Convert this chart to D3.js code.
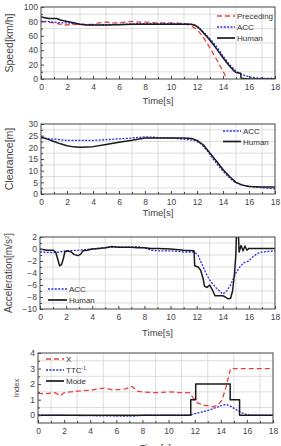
<!DOCTYPE html>
<html>
<head>
<meta charset="utf-8">
<script src="https://cdn.jsdelivr.net/npm/d3@7"></script>
<style>
  html, body { margin: 0; padding: 0; background: #fff; }
  svg { display: block; font-family: "Liberation Sans", Arial, sans-serif; }
</style>
</head>
<body>
<svg id="chart" width="281" height="446"></svg>
<script>
// ---------- DATA ----------
const timeTicks = [0, 2, 4, 6, 8, 10, 12, 14, 16, 18];

const precedingSpeed = [[0,80],[0.5,79],[1,78],[1.5,76],[2,75],[2.5,76],[3,76],[3.5,76],[4,76],[4.5,78],[5,79],[5.5,78],[6,78],[6.5,79],[7,80],[7.5,79],[8,79],[9,78],[10,78],[11,77],[11.5,74],[12,69],[12.4,60],[12.8,49],[13.2,37],[13.6,24],[14,11],[14.3,0]];
const accSpeed = [[0,80],[0.5,80],[1,79],[1.5,78],[2,78],[2.5,77],[3,76],[4,75],[5,75.5],[6,76],[7,76.5],[8,77],[9,77],[10,77],[11,77],[11.5,76],[11.8,75],[12.1,72],[12.5,65],[13,56],[13.5,45],[14,32],[14.5,20],[15,11],[15.5,6],[16,3],[16.5,1.5],[17,1],[18,1]];
const humanSpeed = [[0,86],[0.3,85],[0.6,84],[1.2,84],[1.5,82],[2,80],[2.5,78],[3,76],[3.5,75],[4,75],[5,75],[6,75.5],[7,76],[8,76],[9,76],[10,76],[11,76],[11.6,76],[11.9,74],[12.2,70],[12.5,64],[12.9,56],[13.3,47],[13.7,37],[14.1,27],[14.5,18],[14.8,12],[15,9],[15.35,8],[15.4,1],[16,0],[18,0]];
const speedTicks = [0, 20, 40, 60, 80, 100];

const accClearance = [[0,24],[1,23.5],[2,23],[3,23],[4,23],[5,23.3],[6,23.6],[7,24],[8,24.5],[9,24.2],[10,24],[11,23.5],[11.8,23],[12.3,21.5],[12.8,18.5],[13.3,14.5],[13.8,11],[14.3,8],[14.8,5.5],[15.3,4],[15.8,3.5],[16.5,3],[17,2.7],[18,2.2]];
const humanClearance = [[0,24.5],[0.5,23.5],[1,22.5],[1.5,21.5],[2,20.7],[2.5,20.2],[3,20],[4,20.3],[5,21.2],[6,22.2],[7,23],[8,24],[9,24],[10,24],[11,24],[11.6,23.8],[12,23],[12.5,21],[13,17.5],[13.5,14],[14,10.5],[14.5,7.5],[15,5],[15.5,3.8],[16,3.2],[17,3],[18,3]];
const clearanceTicks = [0, 5, 10, 15, 20, 25, 30];

const accAcceleration = [[0,-0.5],[1,-0.6],[1.5,-0.5],[2,-0.3],[3,-0.2],[4,0],[5,0.2],[5.5,0.3],[6,0.3],[7,0.3],[7.5,0.4],[8,0.2],[8.5,-0.2],[9,-0.3],[10,-0.3],[11,-0.5],[11.8,-0.5],[12.1,-1],[12.4,-2.5],[12.7,-4],[13,-5.2],[13.5,-6.5],[14,-7.5],[14.3,-7],[14.6,-6],[15,-4],[15.3,-3],[15.6,-2.3],[16,-2],[16.3,-1.3],[16.7,-0.7],[17,-0.5],[18,-0.3]];
const humanAcceleration = [[0,0],[0.5,-0.2],[1,-0.2],[1.2,-0.5],[1.4,-2],[1.5,-2.8],[1.65,-2.6],[1.8,-1.5],[1.9,-0.5],[2.1,-0.3],[2.4,-0.5],[2.6,-0.9],[2.9,-1.1],[3.1,-0.9],[3.3,-0.3],[3.6,-0.2],[4,0],[4.5,0.1],[5,0.2],[5.5,0.4],[6,0.3],[6.5,0.3],[7,0.3],[7.5,0.2],[8,0.2],[8.5,0.1],[9,0.1],[10,0],[11,-0.2],[11.8,-0.3],[11.85,-2.8],[12.1,-3],[12.3,-3.5],[12.5,-5],[12.6,-6.2],[12.8,-6.4],[13,-6],[13.2,-6.8],[13.4,-7.8],[13.7,-7.8],[14,-7.8],[14.2,-8],[14.4,-8.3],[14.6,-8.2],[14.75,-7],[14.9,-4],[15,-1],[15.05,2.5],[15.2,2.5],[15.25,-0.5],[15.4,0.6],[15.55,-0.3],[15.7,0.5],[15.85,-0.2],[16,0.1],[16.5,0.1],[18,0.1]];
const accelerationTicks = [-10, -8, -6, -4, -2, 0, 2];

const xIndex = [[0,1.4],[0.5,1.38],[1,1.42],[1.3,1.45],[1.7,1.25],[2,1.45],[2.5,1.5],[3,1.55],[4,1.6],[4.6,1.7],[5.2,1.75],[5.6,1.65],[6.3,1.65],[6.7,1.7],[7.2,1.85],[7.6,1.55],[8,1.5],[9,1.45],[10,1.5],[11,1.45],[11.6,1.45],[11.9,1.1],[12.2,0.8],[12.7,0.65],[13.4,0.55],[13.8,0.65],[14.1,1],[14.4,1.8],[14.6,2.5],[14.75,3],[18,3]];
const ttcInverse = [[0,0],[2,0],[4,-0.03],[6,-0.05],[7.5,-0.05],[8,0],[11.6,0],[12,0.1],[12.5,0.2],[13,0.3],[13.5,0.45],[14,0.6],[14.4,0.7],[14.7,0.6],[15,0.45],[15.4,0.25],[15.8,0.08],[16.3,0],[18,0]];
const modeIndex = [[0,0],[11.7,1],[12.08,2],[14.72,1],[15.44,0],[18,0]];
const indexTicks = [0, 1, 2, 3, 4];

// ---------- STYLES ----------
const RED = { stroke: "#e8413b", width: 1.3, dash: "5,3" };
const BLUE = { stroke: "#2b2bdc", width: 1.3, dash: "2,1.4" };
const BLACK = { stroke: "#1a1a1a", width: 1.5, dash: null };

const svg = d3.select("#chart");
svg.append("rect").attr("width", 281).attr("height", 446).attr("fill", "#fff");

function drawPanel(cfg, idx) {
  const x = d3.scaleLinear().domain([0, 18]).range([cfg.left, cfg.right]);
  const y = d3.scaleLinear().domain(cfg.yDomain).range([cfg.bottom, cfg.top]);
  const g = svg.append("g");

  // grid at midpoints (minor positions)
  const xMinor = d3.range(1, 18, 2);
  const yStep = cfg.yTicks[1] - cfg.yTicks[0];
  const yMinor = cfg.yTicks.slice(0, -1).map(v => v + yStep / 2);
  g.selectAll(".gx").data(xMinor).enter().append("line")
    .attr("x1", d => x(d)).attr("x2", d => x(d))
    .attr("y1", cfg.top).attr("y2", cfg.bottom)
    .attr("stroke", "#d4d4d4").attr("stroke-width", 0.8);
  g.selectAll(".gy").data(yMinor).enter().append("line")
    .attr("y1", d => y(d)).attr("y2", d => y(d))
    .attr("x1", cfg.left).attr("x2", cfg.right)
    .attr("stroke", "#d4d4d4").attr("stroke-width", 0.8);

  // clip
  const clipId = "clip" + idx;
  svg.append("clipPath").attr("id", clipId).append("rect")
    .attr("x", cfg.left).attr("y", cfg.top)
    .attr("width", cfg.right - cfg.left).attr("height", cfg.bottom - cfg.top);

  const plot = g.append("g").attr("clip-path", `url(#${clipId})`);
  cfg.series.forEach(s => {
    const line = d3.line().x(d => x(d[0])).y(d => y(d[1]));
    if (s.step) line.curve(d3.curveStepAfter);
    plot.append("path").datum(s.data)
      .attr("fill", "none")
      .attr("stroke", s.style.stroke)
      .attr("stroke-width", s.style.width)
      .attr("stroke-dasharray", s.style.dash)
      .attr("stroke-linejoin", "round")
      .attr("d", line);
  });

  // frame
  g.append("rect").attr("x", cfg.left).attr("y", cfg.top)
    .attr("width", cfg.right - cfg.left).attr("height", cfg.bottom - cfg.top)
    .attr("fill", "none").attr("stroke", "#444").attr("stroke-width", 1);

  // axes with inner ticks
  const xAxis = d3.axisBottom(x).tickValues(cfg.xTicks).tickSize(-3).tickPadding(5).tickFormat(d3.format("d"));
  const ax = g.append("g").attr("transform", `translate(0,${cfg.bottom})`).call(xAxis);
  const xMinorAxis = d3.axisBottom(x).tickValues(xMinor).tickSize(-2).tickFormat("");
  g.append("g").attr("transform", `translate(0,${cfg.bottom})`).call(xMinorAxis)
    .call(s => s.select(".domain").remove())
    .selectAll("line").attr("stroke", "#444");
  ax.select(".domain").remove();
  ax.selectAll("line").attr("stroke", "#444");
  ax.selectAll("text").attr("font-size", 8.5).attr("fill", "#444")
    .attr("font-family", "Liberation Sans, Arial, sans-serif");

  const yAxis = d3.axisLeft(y).tickValues(cfg.yTicks).tickSize(-3).tickPadding(3).tickFormat(d3.format("d"));
  const ay = g.append("g").attr("transform", `translate(${cfg.left},0)`).call(yAxis);
  const yMinorAxis = d3.axisLeft(y).tickValues(yMinor).tickSize(-2).tickFormat("");
  g.append("g").attr("transform", `translate(${cfg.left},0)`).call(yMinorAxis)
    .call(s => s.select(".domain").remove())
    .selectAll("line").attr("stroke", "#444");
  ay.select(".domain").remove();
  ay.selectAll("line").attr("stroke", "#444");
  ay.selectAll("text").attr("font-size", 8.5).attr("fill", "#444")
    .attr("font-family", "Liberation Sans, Arial, sans-serif");

  // x title
  g.append("text").attr("x", (cfg.left + cfg.right) / 2).attr("y", cfg.xTitleY)
    .attr("text-anchor", "middle").attr("font-size", 9.5).attr("fill", "#444")
    .text("Time[s]");

  // y title
  const yt = g.append("text")
    .attr("transform", `translate(${cfg.yTitleX},${(cfg.top + cfg.bottom) / 2}) rotate(-90)`)
    .attr("text-anchor", "middle").attr("font-size", cfg.yTitleSize).attr("fill", "#444");
  cfg.yTitle.forEach(part => {
    const t = yt.append("tspan").text(part.t);
    if (part.sup) t.attr("baseline-shift", "super").attr("font-size", cfg.yTitleSize * 0.6);
  });

  // legend
  cfg.legend.items.forEach((it, i) => {
    const ly = cfg.legend.y + i * cfg.legend.dy;
    g.append("line").attr("x1", cfg.legend.x).attr("x2", cfg.legend.x + cfg.legend.len)
      .attr("y1", ly).attr("y2", ly)
      .attr("stroke", it.style.stroke).attr("stroke-width", it.style.width + 0.2)
      .attr("stroke-dasharray", it.style.dash);
    const lt = g.append("text").attr("x", cfg.legend.x + cfg.legend.len + 2).attr("y", ly + 3)
      .attr("font-size", 8).attr("fill", "#333");
    it.label.forEach(p => {
      const t = lt.append("tspan").text(p.t);
      if (p.sup) t.attr("baseline-shift", "super").attr("font-size", 5);
    });
  });
}

const panels = [
  {
    left: 41, right: 275, top: 7, bottom: 79, yDomain: [0, 100], yTicks: speedTicks, xTicks: timeTicks,
    xTitleY: 104, yTitleX: 13, yTitleSize: 10.5, yTitle: [{ t: "Speed[km/h]" }],
    series: [
      { data: precedingSpeed, style: RED },
      { data: accSpeed, style: BLUE },
      { data: humanSpeed, style: BLACK }
    ],
    legend: { x: 217, y: 16, dy: 11, len: 18, items: [
      { label: [{ t: "Preceding" }], style: RED },
      { label: [{ t: "ACC" }], style: BLUE },
      { label: [{ t: "Human" }], style: BLACK }
    ] }
  },
  {
    left: 41, right: 275, top: 124, bottom: 194, yDomain: [0, 30], yTicks: clearanceTicks, xTicks: timeTicks,
    xTitleY: 216, yTitleX: 13, yTitleSize: 10.5, yTitle: [{ t: "Clearance[m]" }],
    series: [
      { data: accClearance, style: BLUE },
      { data: humanClearance, style: BLACK }
    ],
    legend: { x: 223, y: 131, dy: 10.5, len: 18, items: [
      { label: [{ t: "ACC" }], style: BLUE },
      { label: [{ t: "Human" }], style: BLACK }
    ] }
  },
  {
    left: 40, right: 275, top: 237, bottom: 309, yDomain: [-10, 2], yTicks: accelerationTicks, xTicks: timeTicks,
    xTitleY: 336, yTitleX: 12, yTitleSize: 10, yTitle: [{ t: "Acceleration[m/s" }, { t: "2", sup: true }, { t: "]" }],
    series: [
      { data: accAcceleration, style: BLUE },
      { data: humanAcceleration, style: BLACK }
    ],
    legend: { x: 48, y: 289, dy: 11, len: 19, items: [
      { label: [{ t: "ACC" }], style: BLUE },
      { label: [{ t: "Human" }], style: BLACK }
    ] }
  },
  {
    left: 38, right: 273, top: 353, bottom: 423, yDomain: [-0.5, 4], yTicks: indexTicks, xTicks: timeTicks,
    xTitleY: 451, yTitleX: 19, yTitleSize: 7.5, yTitle: [{ t: "Index" }],
    series: [
      { data: xIndex, style: RED },
      { data: ttcInverse, style: BLUE },
      { data: modeIndex, style: BLACK, step: true }
    ],
    legend: { x: 46, y: 359, dy: 11, len: 18, items: [
      { label: [{ t: "X" }], style: RED },
      { label: [{ t: "TTC" }, { t: "-1", sup: true }], style: BLUE },
      { label: [{ t: "Mode" }], style: BLACK }
    ] }
  }
];

panels.forEach((p, i) => drawPanel(p, i));
</script>
</body>
</html>
